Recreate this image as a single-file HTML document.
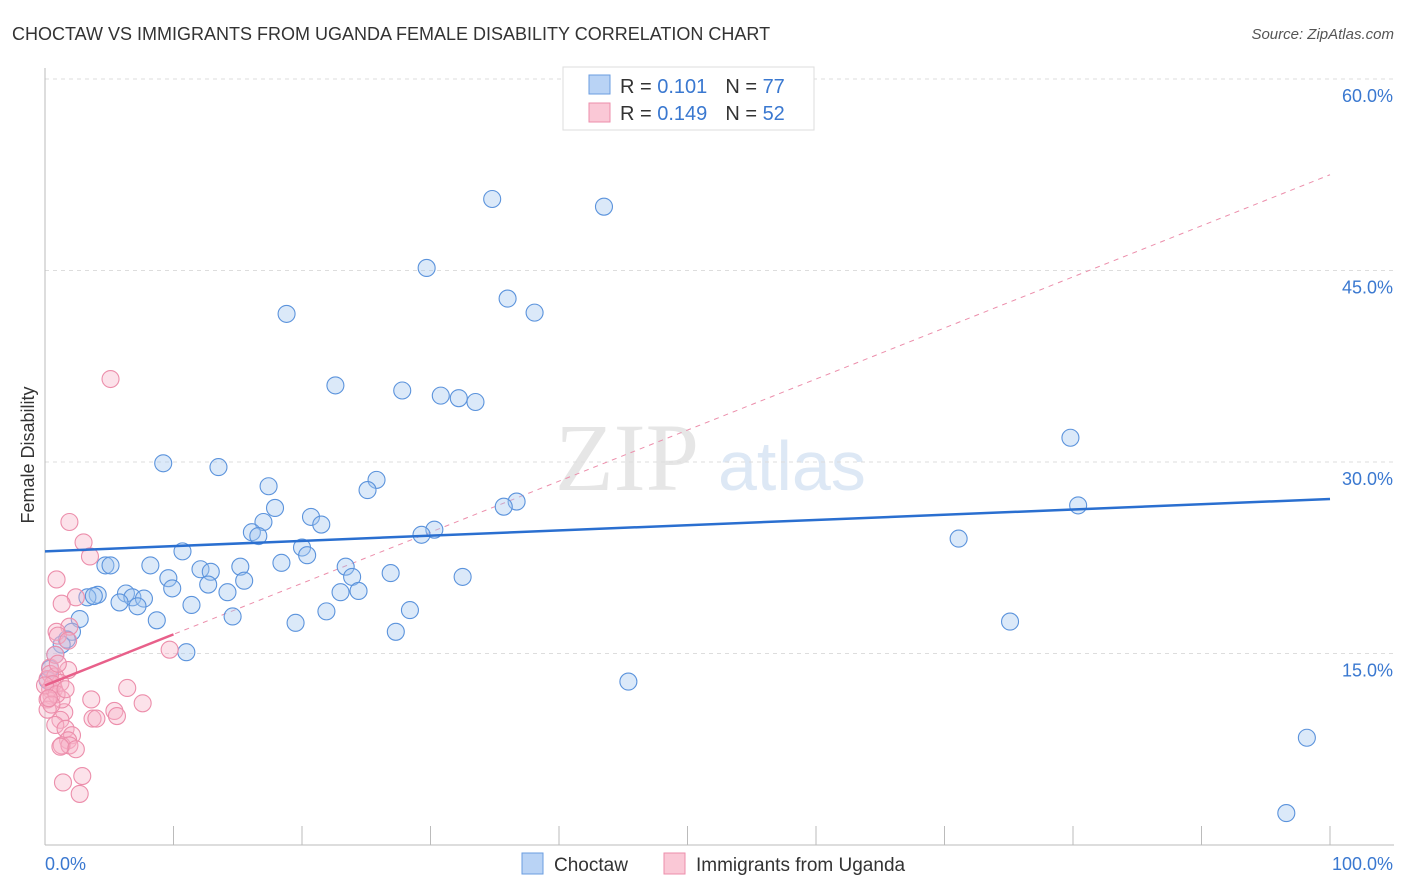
<!DOCTYPE html>
<html><head><meta charset="utf-8"><style>
body{margin:0;background:#fff;font-family:"Liberation Sans",sans-serif}
</style></head><body>
<svg id="chart" width="1406" height="892" xmlns="http://www.w3.org/2000/svg" style="display:block">
<text x="12" y="40" font-size="18" fill="#333">CHOCTAW VS IMMIGRANTS FROM UGANDA FEMALE DISABILITY CORRELATION CHART</text>
<text x="1394" y="39" font-size="15" fill="#555" font-style="italic" text-anchor="end">Source: ZipAtlas.com</text>
<text x="555" y="490" font-size="96" fill="#e6e6e6" font-family="Liberation Serif">ZIP</text>
<text x="718" y="490" font-size="70" fill="#dde8f5">atlas</text>
<g id="grid"></g>
<g id="axes"></g>
<g id="marks"></g>
<text transform="translate(34,455) rotate(-90)" font-size="18" fill="#333" text-anchor="middle">Female Disability</text>
<g>
<rect x="563" y="67" width="251" height="63" fill="#fff" stroke="#ddd"/>
<rect x="589" y="75" width="21" height="19" fill="#b9d3f5" stroke="#6a9de0"/>
<text x="620" y="93" font-size="20" fill="#333">R = <tspan fill="#3a78d0">0.101</tspan><tspan dx="18">N = </tspan><tspan fill="#3a78d0">77</tspan></text>
<rect x="589" y="103" width="21" height="19" fill="#fac8d6" stroke="#ec8eab"/>
<text x="620" y="120" font-size="20" fill="#333">R = <tspan fill="#3a78d0">0.149</tspan><tspan dx="18">N = </tspan><tspan fill="#3a78d0">52</tspan></text>
</g>
<g>
<rect x="522" y="853" width="21" height="21" fill="#b9d3f5" stroke="#6a9de0"/>
<text x="554" y="871" font-size="19" fill="#333">Choctaw</text>
<rect x="664" y="853" width="21" height="21" fill="#fac8d6" stroke="#ec8eab"/>
<text x="696" y="871" font-size="19" fill="#333">Immigrants from Uganda</text>
</g>
</svg>
<script>
const yTicks=[15,30,45,60];
const yTickLabels=["15.0%","30.0%","45.0%","60.0%"];
const xTickLabels=["0.0%","100.0%"];
const choctawX=[34.8,43.5,29.7,36.0,38.1,18.8,22.6,27.8,30.8,32.2,33.5,79.8,9.2,13.5,25.8,25.1,17.4,36.7,35.7,80.4,17.9,20.7,17.0,21.5,16.1,16.6,30.3,29.3,71.1,20.0,20.4,10.7,8.2,4.7,5.1,12.1,12.9,15.2,18.4,23.4,26.9,23.9,32.5,9.6,15.5,12.7,9.9,24.4,23.0,14.2,6.3,4.1,3.3,3.8,6.8,7.7,5.8,7.2,11.4,28.4,21.9,14.6,8.7,2.7,19.5,75.1,27.3,2.1,1.7,1.3,0.8,11.0,45.4,98.2,96.6,0.4,0.2];
const choctawY=[50.6,50.0,45.2,42.8,41.7,41.6,36.0,35.6,35.2,35.0,34.7,31.9,29.9,29.6,28.6,27.8,28.1,26.9,26.5,26.6,26.4,25.7,25.3,25.1,24.5,24.2,24.7,24.3,24.0,23.3,22.7,23.0,21.9,21.9,21.9,21.6,21.4,21.8,22.1,21.8,21.3,21.0,21.0,20.9,20.7,20.4,20.1,19.9,19.8,19.8,19.7,19.6,19.4,19.5,19.4,19.3,19.0,18.7,18.8,18.4,18.3,17.9,17.6,17.7,17.4,17.5,16.7,16.7,16.1,15.7,14.9,15.1,12.8,8.4,2.5,13.8,12.9];
const ugandaX=[5.1,1.9,3.0,3.5,0.9,2.4,1.3,1.9,0.9,1.0,1.8,9.7,1.8,0.4,0.8,0.2,0.8,1.2,0.4,0.5,0.2,6.4,3.6,7.6,5.4,5.6,1.5,3.7,4.0,1.2,0.8,1.6,2.1,1.8,1.3,1.9,2.4,1.2,2.9,1.4,2.7,0.7,0.4,1.0,0.2,1.3,0.6,0.0,0.9,0.5,1.6,0.3];
const ugandaY=[36.5,25.3,23.7,22.6,20.8,19.4,18.9,17.1,16.7,16.4,16.0,15.3,13.7,13.9,14.9,13.0,13.2,12.7,12.2,11.7,11.4,12.3,11.4,11.1,10.5,10.1,10.4,9.9,9.9,9.8,9.4,9.1,8.6,8.2,7.8,7.8,7.5,7.7,5.4,4.9,4.0,12.2,13.4,14.2,10.6,11.4,12.6,12.5,11.8,11.0,12.2,11.5];
const trendIntercept=[23.0,12.5];
const trendSlope=[0.041,0.40];
const L=45,R=1330,T=68,B=845;
const xs=v=>L+v/100*(R-L);
const ys=v=>B-v*(B-79)/60;
const NS="http://www.w3.org/2000/svg";
function mk(tag,attrs,parent){const e=document.createElementNS(NS,tag);for(const k in attrs)e.setAttribute(k,attrs[k]);parent.appendChild(e);return e;}
const grid=document.getElementById('grid'),axes=document.getElementById('axes'),marks=document.getElementById('marks');
yTicks.forEach((t,i)=>{
 const g=mk('line',{x1:L,x2:1394,y1:ys(t),y2:ys(t),stroke:'#ddd','stroke-dasharray':'4,4'},grid);
 
 
 const tx=mk('text',{x:1393,y:ys(t)+23,'font-size':18,fill:'#3a78d0','text-anchor':'end'},axes);
 tx.textContent=yTickLabels[i];
 
 
});
const ax=mk('line',{x1:L,x2:L,y1:T,y2:B,stroke:'#bbb'},axes);


const bx=mk('line',{x1:L,x2:1394,y1:B,y2:B,stroke:'#bbb'},axes);


for(let i=0;i<=10;i++){const t=mk('line',{x1:xs(i*10),x2:xs(i*10),y1:826,y2:B,stroke:'#bbb'},axes);
 
 }
[[0,'start',45],[100,'end',1393]].forEach((d,i)=>{const t=mk('text',{x:d[2],y:870,'font-size':18,fill:'#3a78d0','text-anchor':d[1]},axes);t.textContent=xTickLabels[i];
 
 });
const pd=mk('line',{x1:xs(0),y1:ys(trendIntercept[1]),x2:xs(100),y2:ys(trendIntercept[1]+trendSlope[1]*100),stroke:'#ec8eab','stroke-dasharray':'5,5','stroke-width':1},marks);


choctawX.forEach((x,i)=>{const c=mk('circle',{cx:xs(x),cy:ys(choctawY[i]),r:8.5,fill:'rgba(160,196,240,0.38)',stroke:'#5b93dc','stroke-width':1.1},marks);
 
 });
ugandaX.forEach((x,i)=>{const c=mk('circle',{cx:xs(x),cy:ys(ugandaY[i]),r:8.5,fill:'rgba(248,180,200,0.38)',stroke:'#ec8eab','stroke-width':1.1},marks);
 
 });
const bl=mk('line',{x1:xs(0),y1:ys(trendIntercept[0]),x2:xs(100),y2:ys(trendIntercept[0]+trendSlope[0]*100),stroke:'#2a6fd0','stroke-width':2.5},marks);


const pl=mk('line',{x1:xs(0),y1:ys(trendIntercept[1]),x2:xs(10),y2:ys(trendIntercept[1]+trendSlope[1]*10),stroke:'#e8608a','stroke-width':2.5},marks);


</script>
</body></html>
